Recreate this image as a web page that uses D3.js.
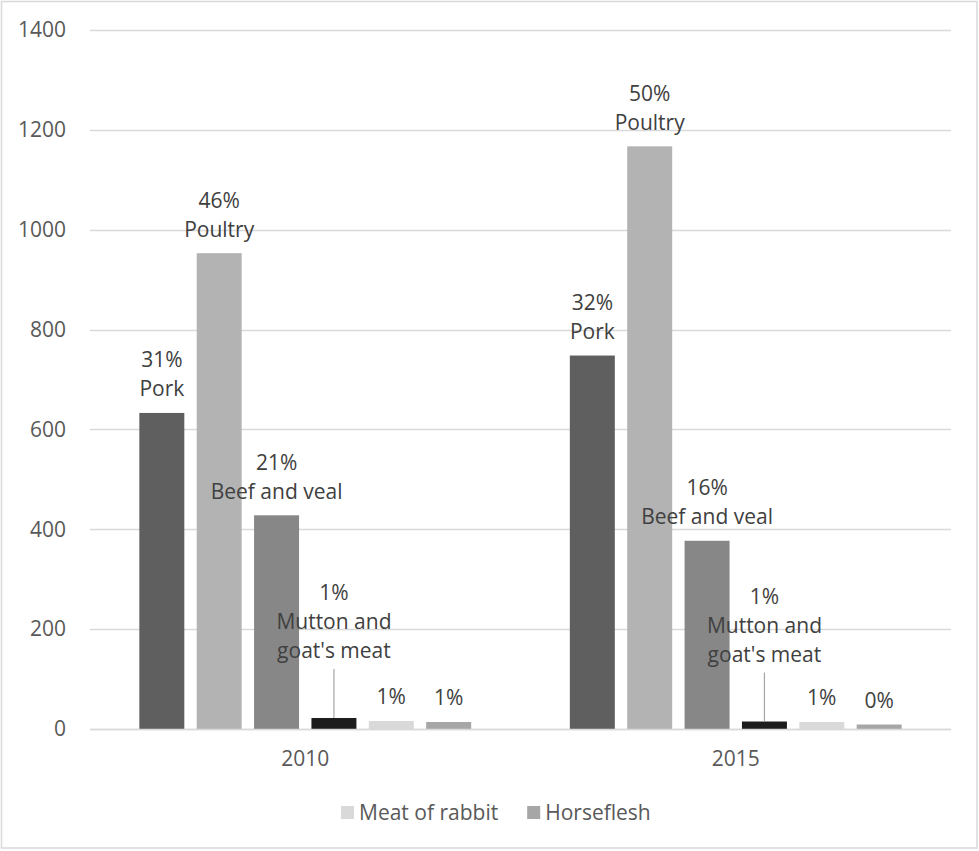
<!DOCTYPE html>
<meta charset="utf-8">
<head>
  <title>Meat consumption 2010 / 2015</title>
  <style>
    body { margin: 0; background: #fff; }
    text { font-family: "Open Sans", "Noto Sans", sans-serif; }
    .grid line { stroke: #d9d9d9; stroke-width: 1.5px; }
  </style>
</head>
<body>
<script src="https://cdn.jsdelivr.net/npm/d3@7"></script>
<script>

// data
var years = ["2010", "2015"];
var series = ["Pork", "Poultry", "Beef and veal", "Mutton and goat's meat", "Meat of rabbit", "Horseflesh"];
var values2010 = [633, 953, 428, 22, 16, 14];
var values2015 = [748, 1167, 377, 15, 14, 9];
var shares2010 = [31, 46, 21, 1, 1, 1];
var shares2015 = [32, 50, 16, 1, 1, 0];
var labelNames = [["Pork"], ["Poultry"], ["Beef and veal"], ["Mutton and", "goat's meat"], [], []];
var legendItems = ["Meat of rabbit", "Horseflesh"];
var yTicks = [0, 200, 400, 600, 800, 1000, 1200, 1400];

var colors = ["#5f5f5f", "#b3b3b3", "#878787", "#1c1c1c", "#d9d9d9", "#a6a6a6"];

var width = 979,
    height = 851,
    fontSize = 21;

var svg = d3.select("body").append("svg")
    .attr("width", width)
    .attr("height", height);

// chart border
svg.append("rect")
    .attr("x", 1.5).attr("y", 1.5)
    .attr("width", 975.5).attr("height", 846.5)
    .attr("fill", "#fff")
    .attr("stroke", "#d9d9d9")
    .attr("stroke-width", 1.5);

var x0 = d3.scaleBand().domain(years).range([90, 951]);
var x1 = d3.scaleBand().domain(series).range([0, x0.bandwidth()])
    .paddingInner(0.216).paddingOuter(0.86);
var y = d3.scaleLinear().domain([0, 1400]).range([729, 30]);

// gridlines
svg.append("g").attr("class", "grid")
  .selectAll("line")
  .data(yTicks)
  .enter().append("line")
    .attr("x1", 90).attr("x2", 951)
    .attr("y1", function(d) { return Math.round(y(d)) + 0.5; })
    .attr("y2", function(d) { return Math.round(y(d)) + 0.5; });

// y axis labels
var yAxis = d3.axisLeft(y).tickValues(yTicks).tickFormat(d3.format("d")).tickSize(0).tickPadding(24);
svg.append("g")
    .attr("transform", "translate(90,0)")
    .call(yAxis)
    .call(function(g) { g.select(".domain").remove(); })
    .selectAll("text")
      .attr("font-size", fontSize)
      .attr("fill", "#595959");

var rows = years.map(function(yr, i) {
  var vals = i === 0 ? values2010 : values2015;
  var shr = i === 0 ? shares2010 : shares2015;
  return series.map(function(s, j) {
    return { year: yr, series: s, idx: j, value: vals[j], share: shr[j] };
  });
});

var groups = svg.append("g").selectAll("g")
  .data(rows)
  .enter().append("g")
    .attr("transform", function(d) { return "translate(" + x0(d[0].year) + ",0)"; });

groups.selectAll("rect")
  .data(function(d) { return d; })
  .enter().append("rect")
    .attr("x", function(d) { return x1(d.series); })
    .attr("width", x1.bandwidth())
    .attr("y", function(d) { return y(d.value); })
    .attr("height", function(d) { return y(0) - y(d.value); })
    .attr("fill", function(d) { return colors[d.idx]; });

// data labels, the mutton one is lifted with a leader line
var lineH = 29;
var labels = groups.selectAll("g.lab")
  .data(function(d) { return d; })
  .enter().append("g")
    .attr("class", "lab");

labels.each(function(d) {
  var g = d3.select(this);
  var cx = x1(d.series) + x1.bandwidth() / 2;
  var lines = [d.share + "%"].concat(labelNames[d.idx]);
  var top = y(d.value);
  var lift = d.idx === 3 ? 43 : 0;
  var lastCenter = top - 24 - lift;
  if (d.idx === 3) {
    g.append("line")
      .attr("x1", cx).attr("x2", cx)
      .attr("y1", lastCenter + 18).attr("y2", top)
      .attr("stroke", "#a6a6a6")
      .attr("stroke-width", 1.2);
  }
  lines.forEach(function(t, k) {
    g.append("text")
      .attr("x", cx)
      .attr("y", lastCenter - (lines.length - 1 - k) * lineH)
      .attr("dy", "0.35em")
      .attr("text-anchor", "middle")
      .attr("font-size", fontSize)
      .attr("fill", "#404040")
      .text(t);
  });
});

// baseline
svg.append("line")
    .attr("x1", 90).attr("x2", 951)
    .attr("y1", y(0) + 0.5).attr("y2", y(0) + 0.5)
    .attr("stroke", "#d9d9d9")
    .attr("stroke-width", 1.5);

// x axis labels
svg.append("g").selectAll("text")
  .data(years)
  .enter().append("text")
    .attr("x", function(d) { return x0(d) + x0.bandwidth() / 2; })
    .attr("y", 759)
    .attr("dy", "0.35em")
    .attr("text-anchor", "middle")
    .attr("font-size", fontSize)
    .attr("fill", "#595959")
    .text(function(d) { return d; });

// legend (only the last two entries are visible)
var legend = svg.append("g").attr("transform", "translate(341,813)");
var lx = 0;
legendItems.forEach(function(name) {
  var item = legend.append("g").attr("transform", "translate(" + lx + ",0)");
  item.append("rect")
    .attr("x", 0).attr("y", -7)
    .attr("width", 13).attr("height", 13)
    .attr("fill", colors[series.indexOf(name)]);
  var t = item.append("text")
    .attr("x", 18)
    .attr("dy", "0.35em")
    .attr("font-size", fontSize)
    .attr("fill", "#595959")
    .text(name);
  lx += 18 + t.node().getComputedTextLength() + 29;
});

</script>
</body>
